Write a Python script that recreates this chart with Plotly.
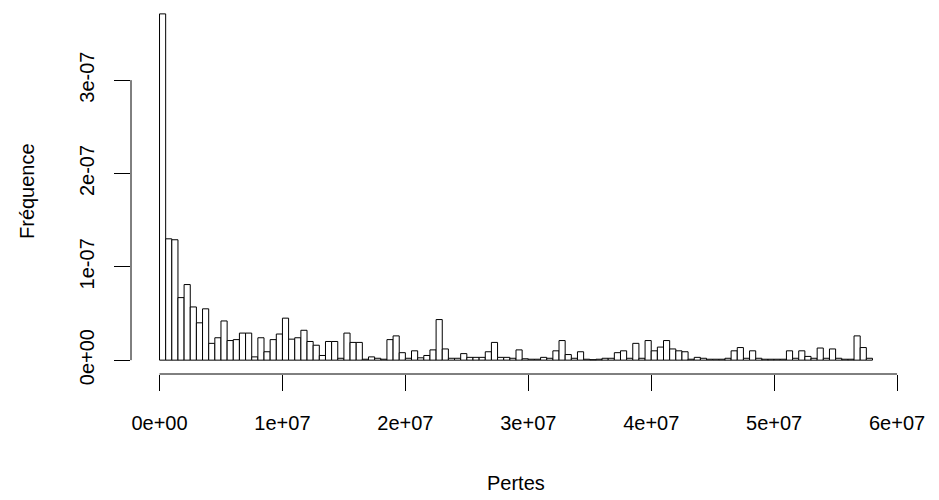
import plotly.graph_objects as go

# Histogram of "Pertes" (density scale), bin width 5e5, 116 bins from 0 to 5.8e7
bin_width = 5e5
density_e7 = [
    3.71, 1.30, 1.29, 0.67, 0.81, 0.57, 0.40, 0.55, 0.18, 0.24,
    0.42, 0.21, 0.22, 0.29, 0.29, 0.035, 0.24, 0.09, 0.22, 0.28,
    0.45, 0.225, 0.24, 0.32, 0.20, 0.16, 0.05, 0.20, 0.20, 0.02,
    0.29, 0.19, 0.19, 0.01, 0.035, 0.02, 0.01, 0.22, 0.26, 0.08,
    0.02, 0.10, 0.025, 0.05, 0.11, 0.435, 0.12, 0.02, 0.02, 0.07,
    0.03, 0.03, 0.03, 0.09, 0.19, 0.03, 0.03, 0.02, 0.11, 0.015,
    0.01, 0.01, 0.03, 0.02, 0.10, 0.21, 0.06, 0.02, 0.09, 0.01,
    0.005, 0.01, 0.02, 0.02, 0.08, 0.10, 0.02, 0.18, 0.02, 0.21,
    0.10, 0.14, 0.21, 0.12, 0.10, 0.09, 0.01, 0.03, 0.02, 0.01,
    0.01, 0.01, 0.02, 0.10, 0.135, 0.02, 0.10, 0.02, 0.01, 0.01,
    0.01, 0.01, 0.10, 0.02, 0.10, 0.04, 0.02, 0.13, 0.02, 0.12,
    0.02, 0.01, 0.01, 0.26, 0.135, 0.02,
]
density = [d * 1e-7 for d in density_e7]
bin_left = [i * bin_width for i in range(len(density))]
bin_center = [b + bin_width / 2 for b in bin_left]

x_ticks = [0, 1e7, 2e7, 3e7, 4e7, 5e7, 6e7]
x_ticktext = ["0e+00", "1e+07", "2e+07", "3e+07", "4e+07", "5e+07", "6e+07"]
y_ticks = [0, 1e-7, 2e-7, 3e-7]
y_ticktext = ["0e+00", "1e-07", "2e-07", "3e-07"]

x_max = bin_left[-1] + bin_width
y_max = max(density)
x_range = [-0.04 * x_max, x_max * 1.04]
y_range = [-0.04 * y_max, y_max * 1.017]

fig = go.Figure()
fig.add_trace(go.Bar(
    x=bin_center, y=density, width=[bin_width] * len(density),
    marker=dict(color="white", line=dict(color="black", width=1)),
    showlegend=False, hoverinfo="x+y",
))

font = dict(family="Liberation Sans, Arial, sans-serif", size=20, color="black")

plot_h = 366
plot_w = 770

fig.update_layout(
    width=939, height=500,
    margin=dict(l=123, r=46, t=0, b=134),
    plot_bgcolor="white", paper_bgcolor="white",
    font=font,
    xaxis=dict(range=x_range, tickvals=x_ticks, ticktext=x_ticktext,
               ticks="outside", ticklen=16, tickwidth=1, tickcolor="black",
               showline=False, showgrid=False, zeroline=False,
               ticklabelstandoff=15, tickfont=font),
    yaxis=dict(range=y_range, tickvals=y_ticks, ticktext=y_ticktext,
               ticks="outside", ticklen=16, tickwidth=1, tickcolor="black",
               tickangle=-90,
               showline=False, showgrid=False, zeroline=False,
               ticklabelstandoff=12, tickfont=font),
    shapes=[
        dict(type="line", xref="x", yref="paper", x0=x_ticks[0], x1=x_ticks[-1], y0=0, y1=0,
             line=dict(color="black", width=1)),
        dict(type="line", xref="paper", yref="y", x0=0, x1=0, y0=y_ticks[0], y1=y_ticks[-1],
             line=dict(color="black", width=1)),
    ],
    annotations=[
        dict(text="Pertes", xref="paper", yref="paper", x=0.5, y=-(475 - plot_h) / plot_h,
             showarrow=False, font=font, xanchor="center", yanchor="middle"),
        dict(text="Fréquence", xref="paper", yref="paper", x=(19 - 123) / plot_w, y=0.5,
             showarrow=False, font=font, textangle=-90, xanchor="center", yanchor="middle"),
    ],
)

fig.write_html("out.html")
